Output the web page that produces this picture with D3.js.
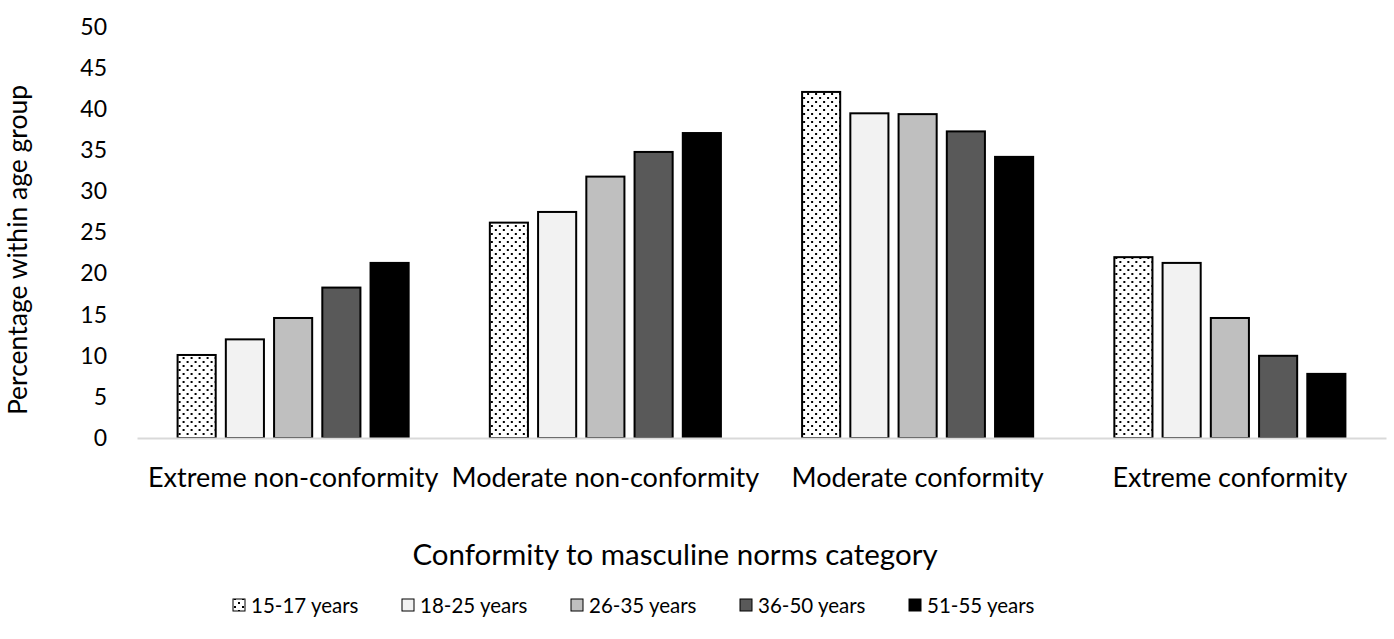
<!DOCTYPE html>
<html>
<head>
<meta charset="utf-8">
<script src="https://cdn.jsdelivr.net/npm/d3@7"></script>
<style>
  body { margin: 0; background: #fff; }
  text { font-family: Lato, sans-serif; fill: #000; }
</style>
</head>
<body>
<div id="container"></div>
<script>
/* CONSTANTS AND GLOBALS */
const width = 1394,
      height = 639,
      margin = {top: 27, bottom: 201, left: 137, right: 8};

// data
const categories = ["Extreme non-conformity", "Moderate non-conformity", "Moderate conformity", "Extreme conformity"];
const ageGroups = ["15-17 years", "18-25 years", "26-35 years", "36-50 years", "51-55 years"];
const age15_17 = [10.1, 26.2, 42.1, 22.0];
const age18_25 = [12.0, 27.5, 39.5, 21.3];
const age26_35 = [14.6, 31.8, 39.4, 14.6];
const age36_50 = [18.3, 34.8, 37.3, 10.0];
const age51_55 = [21.3, 37.1, 34.2, 7.8];
const yTicks = [0, 5, 10, 15, 20, 25, 30, 35, 40, 45, 50];

const series = [age15_17, age18_25, age26_35, age36_50, age51_55];
const data = categories.map((c, i) => ({
  category: c,
  values: ageGroups.map((g, j) => ({group: g, value: series[j][i]}))
}));

const svg = d3.select("#container")
              .append("svg")
              .attr("width", width)
              .attr("height", height)

// dotted pattern
const defs = svg.append("defs")
const pat = defs.append("pattern")
                .attr("id", "dots")
                .attr("patternUnits", "userSpaceOnUse")
                .attr("width", 8)
                .attr("height", 8)
pat.append("rect").attr("width", 8).attr("height", 8).attr("fill", "#fff")
pat.append("rect").attr("x", 1).attr("y", 1).attr("width", 2).attr("height", 2).attr("fill", "#000")
pat.append("rect").attr("x", 5).attr("y", 5).attr("width", 2).attr("height", 2).attr("fill", "#000")

/* SCALES */
const x0 = d3.scaleBand()
             .domain(categories)
             .range([margin.left, width - margin.right])
             .paddingInner(0.26)
             .paddingOuter(0.13)

const x1 = d3.scaleBand()
             .domain(ageGroups)
             .range([0, x0.bandwidth()])
             .paddingInner(0.21)

const yScale = d3.scaleLinear()
                 .domain([0, 50])
                 .range([height - margin.bottom, margin.top])

const fills = d3.scaleOrdinal()
                .domain(ageGroups)
                .range(["url(#dots)", "#f2f2f2", "#bfbfbf", "#595959", "#000000"])

// y axis labels (no line)
const yAxis = d3.axisLeft(yScale).tickValues(yTicks).tickSize(0).tickPadding(0)
const yg = svg.append("g")
   .attr("transform", `translate(107, 0)`)
   .call(yAxis)
yg.select(".domain").remove()
yg.selectAll("text").style("font-size", "23px").style("font-family", "Lato, sans-serif")

// bars
const groups = svg.selectAll("g.cat")
                  .data(data)
                  .join("g")
                  .attr("class", "cat")
                  .attr("transform", d => `translate(${x0(d.category)}, 0)`)

groups.selectAll("rect")
      .data(d => d.values)
      .join("rect")
      .attr("x", d => x1(d.group))
      .attr("y", d => yScale(d.value))
      .attr("width", x1.bandwidth())
      .attr("height", d => yScale(0) - yScale(d.value))
      .attr("fill", d => fills(d.group))
      .attr("stroke", "#000")
      .attr("stroke-width", 2)

// x axis
const xAxis = d3.axisBottom(x0).tickSize(0).tickPadding(30)
const xg = svg.append("g")
   .attr("transform", `translate(0, ${yScale(0)})`)
   .call(xAxis)
xg.select(".domain").attr("stroke", "#d9d9d9").attr("stroke-width", 2)
xg.selectAll("text").style("font-size", "27px").style("font-family", "Lato, sans-serif")

// titles
svg.append("text")
   .attr("x", 675)
   .attr("y", 565)
   .attr("text-anchor", "middle")
   .style("font-size", "29.5px")
   .text("Conformity to masculine norms category")

svg.append("text")
   .attr("transform", "translate(27, 250) rotate(-90)")
   .attr("text-anchor", "middle")
   .style("font-size", "26.5px")
   .text("Percentage within age group")

// legend
const legend = svg.selectAll("g.leg")
                  .data(ageGroups)
                  .join("g")
                  .attr("class", "leg")
                  .attr("transform", (d, i) => `translate(${233 + i * 169}, 605)`)

legend.append("rect")
      .attr("x", 0).attr("y", -6)
      .attr("width", 12).attr("height", 12)
      .attr("fill", d => fills(d))
      .attr("stroke", "#000")
      .attr("stroke-width", 1)

legend.append("text")
      .attr("x", 18)
      .attr("y", 8)
      .style("font-size", "20.5px")
      .text(d => d)
</script>
</body>
</html>
